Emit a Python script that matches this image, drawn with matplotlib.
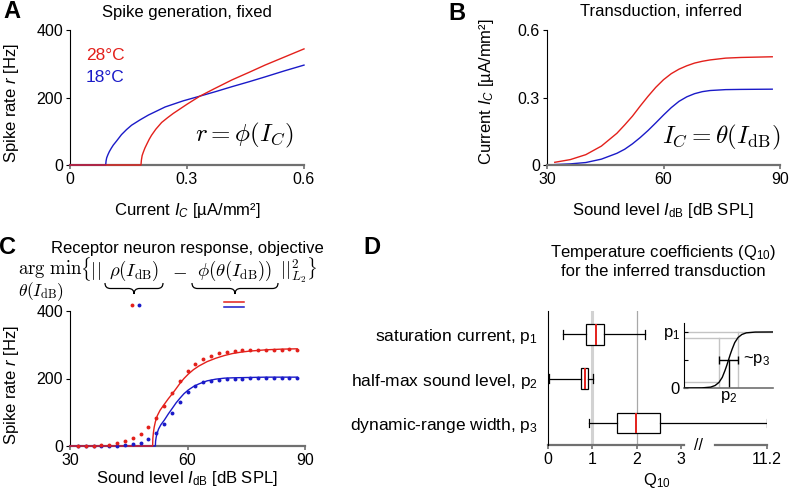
import numpy as np
import matplotlib
matplotlib.use("Agg")
import matplotlib.pyplot as plt
from matplotlib.path import Path
from matplotlib.patches import PathPatch
from matplotlib.lines import Line2D

plt.rcParams['font.family'] = ['Liberation Sans', 'DejaVu Sans']
plt.rcParams['mathtext.fontset'] = 'custom'
plt.rcParams['mathtext.rm'] = 'Liberation Sans'
plt.rcParams['mathtext.it'] = 'Liberation Sans:italic'
plt.rcParams['mathtext.bf'] = 'Liberation Sans:bold'
plt.rcParams['font.size'] = 12

#----- data -----#

# A: spike generation r = phi(I_C)
I_28 = [0.0, 0.182, 0.183, 0.185, 0.188, 0.192, 0.197, 0.203, 0.209, 0.22, 0.235, 0.25,
        0.265, 0.278, 0.3, 0.333, 0.37, 0.415, 0.46, 0.5, 0.55, 0.6]
r_28 = [0, 0, 14, 28, 38, 50, 62, 76, 88, 106, 126, 140,
        153, 163, 180, 204, 226, 252, 275, 296, 320, 344]
I_18 = [0.0, 0.0915, 0.0925, 0.094, 0.097, 0.101, 0.106, 0.111, 0.12, 0.132, 0.145, 0.158,
        0.18, 0.201, 0.244, 0.29, 0.333, 0.375, 0.415, 0.46, 0.5, 0.55, 0.6]
r_18 = [0, 0, 12, 21, 30, 40, 50, 59, 72, 90, 105, 118,
        134, 148, 172, 190, 204, 218, 232, 247, 261, 279, 296]

# B: transduction I_C = theta(I_dB)
dB_B = [32, 36, 40, 44, 48, 50, 52, 54, 56, 58, 60, 62, 64, 66, 68, 70, 72, 76, 80, 88]
Ic_28 = [0.012, 0.024, 0.046, 0.084, 0.141, 0.178, 0.217, 0.262, 0.305, 0.345, 0.379,
         0.406, 0.426, 0.441, 0.453, 0.461, 0.467, 0.475, 0.478, 0.481]
Ic_18 = [0.002, 0.005, 0.011, 0.026, 0.052, 0.070, 0.094, 0.122, 0.153, 0.187, 0.222,
         0.255, 0.283, 0.303, 0.317, 0.326, 0.331, 0.335, 0.336, 0.337]

# C: measured responses (dots) and model fit (lines)
dB_C = [32, 34, 36, 38, 40, 42, 44, 46, 48, 50, 52, 54, 56, 58, 60, 62, 64, 66, 68, 70,
        72, 74, 76, 78, 80, 82, 84, 86, 88]
rho_28 = [0, 0, 1, 2, 4, 8, 14, 24, 36, 56, 84, 120, 156, 192, 221, 243, 257, 268, 275, 280,
          282, 283, 284, 285, 285, 285, 285, 286, 285]
rho_18 = [0, 0, 0, 0, 0, 1, 2, 5, 10, 21, 38, 64, 98, 131, 160, 178, 189, 194, 197, 199,
          200, 200, 201, 201, 201, 201, 201, 201, 201]
fit_dB_28 = [30, 51.1, 51.15, 51.3, 51.5, 51.8, 52.3, 53, 54.1, 55.1, 56.2, 57.1, 58.1, 59.1,
             60.2, 61.5, 62.9, 65, 67.2, 69.4, 71.5, 73.6, 75.7, 80, 84, 88]
fit_r_28 = [0, 0, 22, 40, 56, 72, 90, 106, 124, 140, 156, 170, 186, 200,
            213, 226, 237, 250, 260, 268, 274, 278, 281, 285, 287, 288]
fit_dB_18 = [30, 51.8, 51.85, 52.0, 52.2, 52.6, 53.2, 54.1, 55.1, 56.2, 57.1, 58.1, 59.1,
             60.2, 61.5, 62.9, 65, 67.2, 69.4, 71.5, 75.7, 80, 88]
fit_r_18 = [0, 0, 14, 26, 36, 50, 63, 77, 95, 113, 128, 142, 155,
            166, 176, 184, 193, 198, 201, 202, 203, 204, 204]

# D: Q10 box summaries
q_names = ["saturation current, $\\mathrm{p}_1$",
           "half-max sound level, $\\mathrm{p}_2$",
           "dynamic-range width, $\\mathrm{p}_3$"]
q_wlo = [0.33, 0.03, 0.92]
q_q1 = [0.86, 0.74, 1.56]
q_med = [1.07, 0.83, 1.97]
q_q3 = [1.27, 0.89, 2.52]
q_whi = [2.19, 1.01, 11.2]
q_ticks = [0, 1, 2, 3, 11.2]

# inset sigmoid sketch
sig_x = [0, 0.2, 0.3, 0.35, 0.393, 0.43, 0.46, 0.48, 0.5, 0.52, 0.54, 0.57, 0.607, 0.65, 0.7, 0.8, 1.0]
sig_y = [0.0, 0.002, 0.016, 0.045, 0.1, 0.19, 0.31, 0.40, 0.5, 0.60, 0.69, 0.81, 0.9, 0.955, 0.984, 0.998, 1.0]

#----- helpers -----#
RED = '#e3201b'
BLUE = '#1a1ac8'
GRAY = '#707070'
W, H = 791, 493
fig = plt.figure(figsize=(W / 100, H / 100), dpi=100)


def box(l, t, r, b):
    return [l / W, 1 - b / H, (r - l) / W, (b - t) / H]


def ftext(x, y, s, **kw):
    kw.setdefault('ha', 'center')
    kw.setdefault('va', 'center')
    return fig.text(x / W, 1 - y / H, s, **kw)


def style(ax):
    for s in ['top', 'right']:
        ax.spines[s].set_visible(False)
    ax.spines['left'].set_linewidth(0.8)
    ax.spines['bottom'].set_color(GRAY)
    ax.spines['bottom'].set_linewidth(1.6)
    ax.tick_params(axis='both', length=3, width=0.8, labelsize=11.5, pad=2)
    ax.tick_params(axis='x', color=GRAY, width=1.2)


def brace(x0, x1, y0, h):
    xm = (x0 + x1) / 2
    ym = y0 + h / 2
    yb = y0 + h
    r = h / 2
    pts = [(x0, y0), (x0, ym), (x0 + r, ym), (xm - r, ym), (xm, ym), (xm, yb),
           (xm, ym), (xm + r, ym), (x1 - r, ym), (x1, ym), (x1, y0)]
    codes = [Path.MOVETO, Path.CURVE3, Path.CURVE3, Path.LINETO, Path.CURVE3, Path.CURVE3,
             Path.CURVE3, Path.CURVE3, Path.LINETO, Path.CURVE3, Path.CURVE3]
    pts = [(x / W, 1 - y / H) for x, y in pts]
    fig.add_artist(PathPatch(Path(pts, codes), fill=False, lw=0.9, color='black',
                             transform=fig.transFigure))


#----- A -----#
axA = fig.add_axes(box(70, 30, 304, 165))
style(axA)
axA.plot(I_18, r_18, color=BLUE, lw=1, clip_on=False, zorder=3)
axA.plot(I_28, r_28, color=RED, lw=1, clip_on=False, zorder=3)
axA.set_xlim(0, 0.6)
axA.set_ylim(0, 400)
axA.set_xticks([0, 0.3, 0.6], ['0', '0.3', '0.6'])
axA.set_yticks([0, 200, 400])
ftext(86, 55, '28°C', color=RED, ha='left', fontsize=12.5)
ftext(86, 77, '18°C', color=BLUE, ha='left', fontsize=12.5)
ftext(244, 135, r'$r = \phi(I_C)$', math_fontfamily='cm', fontsize=18)
ftext(187, 12, 'Spike generation, fixed')
ftext(12, 103, 'Spike rate $r$ [Hz]', rotation=90)
ftext(187, 210, 'Current $I_C$ [µA/mm²]')
ftext(12, 12, 'A', fontsize=17, fontweight='bold')

#----- B -----#
axB = fig.add_axes(box(547, 30, 780, 165))
style(axB)
axB.plot(dB_B, Ic_18, color=BLUE, lw=1)
axB.plot(dB_B, Ic_28, color=RED, lw=1)
axB.set_xlim(30, 90)
axB.set_ylim(0, 0.6)
axB.set_xticks([30, 60, 90])
axB.set_yticks([0, 0.3, 0.6], ['0', '0.3', '0.6'])
ftext(721, 137, r'$I_C = \theta(I_{\mathrm{dB}})$', math_fontfamily='cm', fontsize=18)
ftext(661, 12, 'Transduction, inferred')
ftext(486, 92, 'Current $I_C$ [µA/mm²]', rotation=90)
ftext(663, 210, 'Sound level $I_{\\mathrm{dB}}$ [dB SPL]')
ftext(457, 13, 'B', fontsize=17, fontweight='bold')

#----- C -----#
axC = fig.add_axes(box(70, 311, 305, 446))
style(axC)
axC.plot(fit_dB_18, fit_r_18, color=BLUE, lw=1, clip_on=False, zorder=3)
axC.plot(fit_dB_28, fit_r_28, color=RED, lw=1, clip_on=False, zorder=3)
axC.plot(dB_C, rho_18, 'o', color=BLUE, ms=2.8, mec='none', clip_on=False, zorder=4)
axC.plot(dB_C, rho_28, 'o', color=RED, ms=2.8, mec='none', clip_on=False, zorder=4)
axC.set_xlim(30, 90)
axC.set_ylim(0, 400)
axC.set_xticks([30, 60, 90])
axC.set_yticks([0, 200, 400])
ftext(187, 249, 'Receptor neuron response, objective')
ftext(12, 385, 'Spike rate $r$ [Hz]', rotation=90)
ftext(187, 478, 'Sound level $I_{\\mathrm{dB}}$ [dB SPL]')
ftext(8, 248, 'C', fontsize=17, fontweight='bold')

cm = dict(math_fontfamily='cm', fontsize=13.5, va='baseline')
ftext(18, 274, r'$\arg\,\min$', ha='left', **cm)
ftext(18, 296, r'$\theta(I_{\mathrm{dB}})$', ha='left', math_fontfamily='cm',
      fontsize=12.5, va='baseline')
ftext(80, 276, r'$\{||$', ha='left', **cm)
ftext(134, 276, r'$\rho(I_{\mathrm{dB}})$', ha='center', **cm)
ftext(180, 276, r'$-$', ha='center', **cm)
ftext(235, 276, r'$\phi(\theta(I_{\mathrm{dB}}))$', ha='center', **cm)
ftext(280, 276, r'$||^2_{L_2}\}$', ha='left', **cm)
brace(105, 163, 283, 11)
brace(192, 278, 283, 11)
fig.add_artist(Line2D([132 / W], [1 - 305 / H], marker='o', ms=2.8, color=RED, mec='none'))
fig.add_artist(Line2D([139 / W], [1 - 305 / H], marker='o', ms=2.8, color=BLUE, mec='none'))
fig.add_artist(Line2D([224 / W, 244 / W], [1 - 302 / H] * 2, color=RED, lw=1.1))
fig.add_artist(Line2D([224 / W, 244 / W], [1 - 307 / H] * 2, color=BLUE, lw=1.1))

#----- D -----#
K = (4.93 - 3) / (11.2 - 3)


def fwd(x):
    x = np.asarray(x, float)
    return np.where(x <= 3, x, 3 + (x - 3) * K)


def inv(x):
    x = np.asarray(x, float)
    return np.where(x <= 3, x, 3 + (x - 3) / K)


axD = fig.add_axes(box(548, 311, 767, 445))
axD.set_xscale('function', functions=(fwd, inv))
for s in ['top', 'right', 'bottom']:
    axD.spines[s].set_visible(False)
axD.spines['left'].set_linewidth(0.8)
axD.axvline(1, color='#d2d2d2', lw=2.2, zorder=1)
axD.axvline(2, color='#a8a8a8', lw=0.9, zorder=1)
stats = [dict(med=q_med[i], q1=q_q1[i], q3=q_q3[i], whislo=q_wlo[i], whishi=q_whi[i],
              fliers=[]) for i in range(3)]
axD.bxp(stats, positions=[3, 2, 1], vert=False, widths=0.47, capwidths=0.2,
        patch_artist=True, showfliers=False, zorder=3,
        boxprops=dict(facecolor='white', edgecolor='black', lw=0.9),
        medianprops=dict(color=RED, lw=1.4),
        whiskerprops=dict(lw=0.9), capprops=dict(lw=0.9))
axD.set_xlim(0, 11.2)
axD.set_ylim(0.505, 3.52)
axD.set_yticks([3, 2, 1], q_names)
axD.set_xticks(q_ticks, ['0', '1', '2', '3', '11.2'])
axD.xaxis.set_minor_locator(matplotlib.ticker.NullLocator())
axD.tick_params(axis='y', length=0, pad=7, labelsize=12.5)
axD.tick_params(axis='x', length=3, width=1.2, color=GRAY, labelsize=11.5, pad=2)
xt = axD.get_xaxis_transform()
axD.plot([0, float(inv(3.07))], [0, 0], color=GRAY, lw=1.6, transform=xt, clip_on=False)
axD.plot([float(inv(3.75)), 11.2], [0, 0], color=GRAY, lw=1.6, transform=xt, clip_on=False)
axD.text(float(inv(3.38)), 0, '//', transform=xt, ha='center', va='center', fontsize=11.5)
ftext(663, 252, 'Temperature coefficients (Q$_{10}$)')
ftext(663, 272, 'for the inferred transduction')
ftext(657, 480, '$\\mathrm{Q}_{10}$')
ftext(372, 248, 'D', fontsize=17, fontweight='bold')

# inset sketch of the transduction sigmoid
axI = fig.add_axes(box(684, 323, 773, 388))
for s in ['top', 'right']:
    axI.spines[s].set_visible(False)
axI.spines['left'].set_linewidth(0.8)
axI.spines['bottom'].set_linewidth(1.2)
axI.spines['bottom'].set_color(GRAY)
lg = dict(color='#c4c4c4', lw=1, zorder=1)
axI.plot([0, 1], [1, 1], **lg)
axI.plot([0, 0.607], [0.9, 0.9], **lg)
axI.plot([0, 0.393], [0.1, 0.1], **lg)
axI.plot([0.393, 0.393], [0, 0.9], **lg)
axI.plot([0.607, 0.607], [0, 1], **lg)
axI.plot(sig_x, sig_y, color='black', lw=1, zorder=3)
axI.plot([0.5, 0.5], [0, 0.5], color='black', lw=1)
axI.errorbar([0.5], [0.5], xerr=[0.107], color='black', lw=1, capsize=3, capthick=1)
axI.text(0.66, 0.5, '~p$_3$', ha='left', va='center', fontsize=12)
axI.set_xlim(0, 1)
axI.set_ylim(0, 1.16)
axI.set_yticks([0, 0.5, 1], ['0', '', '$\\mathrm{p}_1$'])
axI.set_xticks([0.5], ['$\\mathrm{p}_2$'])
axI.tick_params(axis='y', direction='in', length=3, width=0.8, labelsize=12, pad=3)
axI.tick_params(axis='x', length=0, labelsize=12, pad=1)

fig.savefig('out.png', dpi=100)
